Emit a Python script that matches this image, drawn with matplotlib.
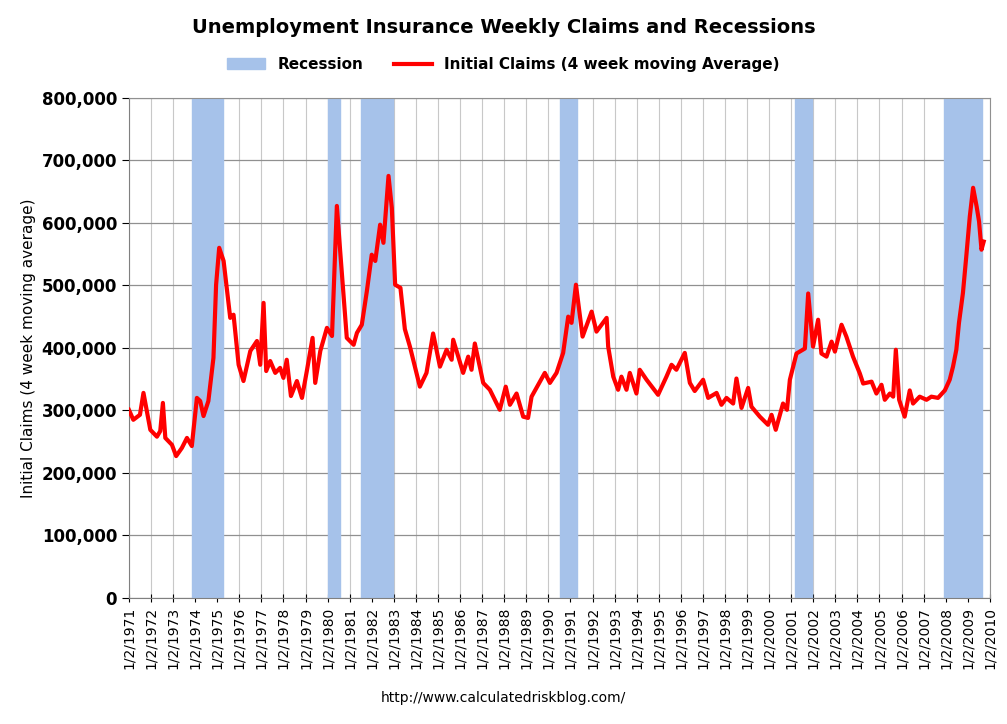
import numpy as np
import matplotlib.pyplot as plt

# Recession periods (decimal years)
rec_start = [1973.87, 1980.03, 1981.52, 1990.53, 2001.16, 2007.93]
rec_end = [1975.28, 1980.57, 1982.96, 1991.28, 2001.93, 2009.63]

# Initial claims, 4 week moving average: (year, claims)
points = [
    (1971.0, 301000), (1971.2, 285000), (1971.5, 293000), (1971.66, 328000), (1971.97, 269000),
    (1972.27, 258000), (1972.42, 267000), (1972.54, 312000), (1972.65, 256000), (1972.95, 245000),
    (1973.14, 227000), (1973.4, 240000), (1973.63, 256000), (1973.85, 243000), (1974.08, 320000),
    (1974.23, 315000), (1974.38, 291000), (1974.6, 315000), (1974.83, 384000), (1974.95, 501000),
    (1975.09, 560000), (1975.29, 539000), (1975.59, 448000), (1975.74, 453000), (1975.97, 373000),
    (1976.19, 347000), (1976.5, 395000), (1976.8, 411000), (1976.95, 373000), (1977.1, 472000),
    (1977.22, 363000), (1977.4, 379000), (1977.63, 360000), (1977.85, 368000), (1978.0, 352000),
    (1978.15, 381000), (1978.34, 323000), (1978.61, 347000), (1978.84, 320000), (1979.06, 363000),
    (1979.32, 416000), (1979.44, 344000), (1979.67, 395000), (1979.97, 432000), (1980.2, 419000),
    (1980.42, 627000), (1980.57, 555000), (1980.87, 416000), (1981.18, 405000), (1981.33, 424000),
    (1981.55, 437000), (1981.78, 491000), (1982.0, 549000), (1982.16, 539000), (1982.38, 597000),
    (1982.53, 568000), (1982.76, 675000), (1982.91, 624000), (1983.06, 501000), (1983.3, 496000),
    (1983.5, 430000), (1983.73, 402000), (1984.18, 338000), (1984.48, 360000), (1984.78, 423000),
    (1985.09, 370000), (1985.39, 397000), (1985.62, 381000), (1985.69, 413000), (1986.14, 360000),
    (1986.37, 386000), (1986.52, 365000), (1986.67, 407000), (1987.05, 344000), (1987.35, 333000),
    (1987.8, 301000), (1988.07, 338000), (1988.26, 309000), (1988.56, 327000), (1988.86, 290000),
    (1989.08, 288000), (1989.24, 322000), (1989.54, 341000), (1989.84, 360000), (1990.07, 344000),
    (1990.37, 360000), (1990.67, 392000), (1990.9, 450000), (1991.05, 440000), (1991.25, 501000),
    (1991.55, 418000), (1991.96, 458000), (1992.18, 426000), (1992.64, 448000), (1992.71, 402000),
    (1992.94, 354000), (1993.16, 333000), (1993.31, 354000), (1993.54, 333000), (1993.69, 360000),
    (1993.99, 327000), (1994.14, 365000), (1994.45, 349000), (1994.97, 325000), (1995.35, 354000),
    (1995.58, 373000), (1995.8, 365000), (1996.18, 392000), (1996.41, 344000), (1996.63, 331000),
    (1997.01, 349000), (1997.24, 320000), (1997.62, 328000), (1997.84, 309000), (1998.07, 320000),
    (1998.37, 311000), (1998.52, 351000), (1998.75, 304000), (1999.05, 336000), (1999.2, 306000),
    (1999.58, 290000), (1999.95, 277000), (2000.11, 293000), (2000.3, 269000), (2000.63, 311000),
    (2000.81, 301000), (2000.94, 349000), (2001.24, 391000), (2001.62, 399000), (2001.77, 487000),
    (2001.99, 402000), (2002.22, 445000), (2002.37, 391000), (2002.6, 386000), (2002.83, 410000),
    (2002.98, 394000), (2003.28, 437000), (2003.5, 418000), (2003.8, 386000), (2004.11, 359000),
    (2004.26, 343000), (2004.64, 346000), (2004.86, 327000), (2005.09, 341000), (2005.24, 317000),
    (2005.47, 327000), (2005.62, 322000), (2005.74, 397000), (2005.89, 317000), (2006.14, 290000),
    (2006.37, 332000), (2006.52, 311000), (2006.82, 322000), (2007.13, 317000), (2007.35, 322000),
    (2007.65, 320000), (2007.96, 332000), (2008.18, 349000), (2008.33, 370000), (2008.48, 397000),
    (2008.6, 440000), (2008.78, 488000), (2008.93, 546000), (2009.09, 610000), (2009.24, 656000),
    (2009.4, 626000), (2009.51, 602000), (2009.62, 557000), (2009.72, 570000),
]
years = [p[0] for p in points]
claims = [p[1] for p in points]

fig, ax = plt.subplots(figsize=(10.07, 7.24), dpi=100)
fig.subplots_adjust(left=0.128, right=0.983, top=0.865, bottom=0.174)

for i, (s, e) in enumerate(zip(rec_start, rec_end)):
    ax.axvspan(s, e, color='#a6c2ea', label='Recession' if i == 0 else None, zorder=1)
ax.plot(years, claims, color='#ff0000', lw=3, label='Initial Claims (4 week moving Average)', zorder=3)

ax.set_xlim(1971, 2010)
ax.set_ylim(0, 800000)
ax.set_yticks(np.arange(0, 800001, 100000))
ax.yaxis.set_major_formatter(plt.FuncFormatter(lambda v, p: f'{int(v):,}'))
ticks = list(range(1971, 2011))
ax.set_xticks(ticks)
ax.set_xticklabels([f'1/2/{y}' for y in ticks], rotation=90, fontsize=10)
ax.xaxis.grid(True, color='#c8c8c8', lw=0.8, zorder=0)
ax.yaxis.grid(True, color='#909090', lw=0.9, zorder=0)
ax.set_axisbelow(True)
for lbl in ax.get_yticklabels():
    lbl.set_fontweight('bold')
    lbl.set_fontsize(12)
ax.set_ylabel('Initial Claims (4 week moving average)', fontsize=11)
ax.spines['top'].set_color('#909090')
ax.spines['right'].set_color('#909090')
ax.spines['left'].set_color('#808080')
ax.spines['bottom'].set_color('#808080')
ax.tick_params(axis='x', direction='inout', length=6)
ax.tick_params(axis='y', length=5)

fig.suptitle('Unemployment Insurance Weekly Claims and Recessions', fontsize=14, fontweight='bold', y=0.975)
fig.legend(loc='upper center', bbox_to_anchor=(0.5, 0.94), ncol=2, frameon=False,
           prop={'weight': 'bold', 'size': 11}, handlelength=2.5)
fig.text(0.5, 0.03, 'http://www.calculatedriskblog.com/', ha='center', fontsize=10)

plt.savefig('out.png')
